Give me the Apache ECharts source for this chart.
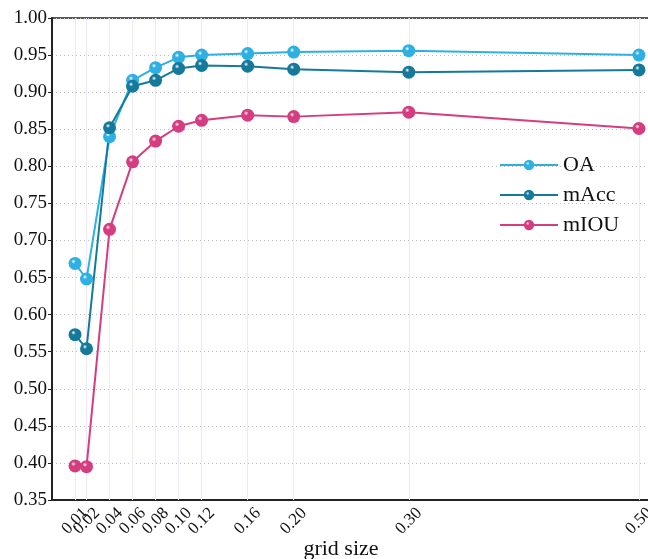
<!DOCTYPE html>
<html>
<head>
<meta charset="utf-8">
<script src="https://cdn.jsdelivr.net/npm/echarts@6/dist/echarts.min.js"></script>
<style>
  html, body { margin: 0; padding: 0; background: #fff; }
  #main { width: 648px; height: 559px; }
</style>
</head>
<body>
<div id="main"></div>
<script>
// grid sizes and scores
var gridSizes = [0.01, 0.02, 0.04, 0.06, 0.08, 0.10, 0.12, 0.16, 0.20, 0.30, 0.50];
var oa   = [0.669, 0.648, 0.840, 0.916, 0.933, 0.947, 0.950, 0.952, 0.954, 0.956, 0.950];
var macc = [0.573, 0.554, 0.852, 0.908, 0.916, 0.932, 0.936, 0.935, 0.931, 0.927, 0.930];
var miou = [0.396, 0.395, 0.715, 0.806, 0.834, 0.854, 0.862, 0.869, 0.867, 0.873, 0.851];
// tick labels split over two axes so the crowded ones are not dropped
var ticksA = [0.01, 0.04, 0.06, 0.08, 0.10, 0.12, 0.16, 0.20, 0.30, 0.50];
var ticksB = [0.02];

var FONT = '"Liberation Serif", "DejaVu Serif", serif';

function ball(c) {
  return {
    type: 'radial', x: 0.38, y: 0.35, r: 0.7,
    colorStops: [
      {offset: 0, color: '#ffffff'},
      {offset: 0.25, color: c},
      {offset: 1, color: c}
    ]
  };
}

function makeSeries(name, vals, color, withLines) {
  var s = {
    name: name,
    type: 'line',
    data: gridSizes.map(function (x, i) { return [x, vals[i]]; }),
    symbol: 'circle',
    symbolSize: 13,
    lineStyle: { color: color, width: 2 },
    itemStyle: { color: ball(color), borderWidth: 0 },
    z: 3
  };
  if (withLines) {
    s.markLine = {
      silent: true,
      symbol: 'none',
      label: { show: false },
      lineStyle: { color: '#efe8fb', type: 'solid', width: 1 },
      data: gridSizes.map(function (x) { return { xAxis: x }; }),
      z: 1
    };
  }
  return s;
}

function xLabel(vals) {
  return {
    customValues: vals,
    interval: 0,
    rotate: 45,
    align: 'center',
    verticalAlign: 'middle',
    margin: 21,
    showMinLabel: true,
    showMaxLabel: true,
    hideOverlap: false,
    fontFamily: FONT, fontSize: 17, color: '#111',
    formatter: function (v) { return v.toFixed(2); }
  };
}

var chart = echarts.init(document.getElementById('main'));
chart.setOption({
  animation: false,
  backgroundColor: '#fff',
  grid: {
    left: 52, top: 18, width: 610, height: 482,
    containLabel: false,
    outerBoundsMode: 'none',
    show: true, borderColor: '#222', borderWidth: 1.5
  },
  legend: {
    orient: 'vertical',
    left: 494, top: 149,
    itemWidth: 58, itemHeight: 13, itemGap: 8,
    textStyle: { fontFamily: FONT, fontSize: 22, color: '#111' },
    data: ['OA', 'mAcc', 'mIOU']
  },
  xAxis: [{
    type: 'value',
    position: 'bottom',
    min: -0.01, max: 0.52,
    name: 'grid size',
    nameLocation: 'middle',
    nameGap: 38,
    nameMoveOverlap: false,
    nameTextStyle: { fontFamily: FONT, fontSize: 22, color: '#111', padding: [0, 32, 0, 0] },
    axisLine: { onZero: false, lineStyle: { color: '#222', width: 2 } },
    axisTick: { show: false },
    splitLine: { show: false },
    axisLabel: xLabel(ticksA)
  }, {
    type: 'value',
    position: 'bottom',
    min: -0.01, max: 0.52,
    axisLine: { show: false, onZero: false },
    axisTick: { show: false },
    splitLine: { show: false },
    axisLabel: xLabel(ticksB)
  }],
  yAxis: {
    type: 'value',
    min: 0.35, max: 1.0, interval: 0.05,
    axisLine: { show: true, onZero: false, lineStyle: { color: '#222', width: 2 } },
    axisTick: { show: true, length: 4, lineStyle: { color: '#222' } },
    splitLine: { show: true, lineStyle: { color: '#bdbdbd', type: [1, 3], width: 1 } },
    axisLabel: {
      margin: 5,
      fontFamily: FONT, fontSize: 19, color: '#111',
      formatter: function (v) { return v.toFixed(2); }
    }
  },
  series: [
    makeSeries('OA', oa, '#2fb0e3', true),
    makeSeries('mAcc', macc, '#14799a', false),
    makeSeries('mIOU', miou, '#d63d80', false)
  ]
});
</script>
</body>
</html>
